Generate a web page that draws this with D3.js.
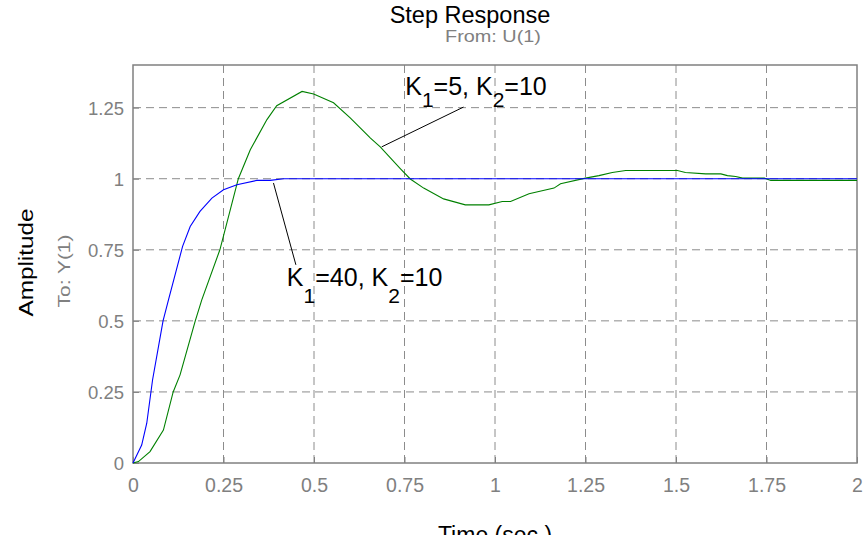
<!DOCTYPE html>
<html>
<head>
<meta charset="utf-8">
<script src="https://cdn.jsdelivr.net/npm/d3@7"></script>
<style>
  html, body { margin: 0; padding: 0; background: #fff; overflow: hidden; }
  svg { display: block; font-family: "Liberation Sans", Arial, sans-serif; }
</style>
</head>
<body>
<svg id="chart" width="866" height="535"></svg>
<script>
// ---- data ----
const xTicks = [0, 0.25, 0.5, 0.75, 1, 1.25, 1.5, 1.75, 2];
const yTicks = [0, 0.25, 0.5, 0.75, 1, 1.25];
const xTickLabels = ["0", "0.25", "0.5", "0.75", "1", "1.25", "1.5", "1.75", "2"];
const yTickLabels = ["0", "0.25", "0.5", "0.75", "1", "1.25"];

// K1=40, K2=10 (blue)
const blueT = [0, 0.024, 0.038, 0.054, 0.083, 0.098, 0.137, 0.158, 0.185, 0.218, 0.25, 0.287, 0.342, 0.379, 0.416, 2.0];
const blueV = [0, 0.063, 0.14, 0.292, 0.5, 0.574, 0.762, 0.832, 0.885, 0.932, 0.961, 0.979, 0.994, 0.994, 1.0, 1.0];

// K1=5, K2=10 (green)
const greenT = [0, 0.015, 0.047, 0.084, 0.111, 0.13, 0.172, 0.19, 0.24, 0.291, 0.324, 0.37, 0.397, 0.467, 0.499, 0.554, 0.6, 0.656, 0.683, 0.739, 0.766, 0.803, 0.858, 0.918, 0.983, 1.02, 1.043, 1.094, 1.163, 1.181, 1.25, 1.287, 1.324, 1.361, 1.504, 1.526, 1.582, 1.624, 1.642, 1.665, 1.684, 1.744, 1.762, 2.0];
const greenV = [0, 0.005, 0.04, 0.116, 0.25, 0.31, 0.5, 0.574, 0.75, 1.0, 1.102, 1.208, 1.257, 1.307, 1.298, 1.267, 1.214, 1.143, 1.112, 1.035, 0.999, 0.967, 0.929, 0.908, 0.908, 0.92, 0.92, 0.947, 0.967, 0.982, 1.002, 1.011, 1.022, 1.029, 1.029, 1.022, 1.017, 1.017, 1.011, 1.008, 1.002, 1.002, 0.994, 0.994];

// annotations (data coordinates)
const annoGreen = { text: ["K", "1", "=5, K", "2", "=10"], tx: 0.752, ty: 1.296, sub: 12, line: [[0.913, 1.252], [0.687, 1.112]] };
const annoBlue  = { text: ["K", "1", "=40, K", "2", "=10"], tx: 0.425, ty: 0.621, sub: 17, line: [[0.388, 0.985], [0.450, 0.697]] };

// ---- drawing ----
const svg = d3.select("#chart");
const L = 133, R = 857, T = 65, B = 463;
const x = d3.scaleLinear().domain([0, 2]).range([L, R]);
const y = d3.scaleLinear().domain([0, 1.4]).range([B, T]);
const gray = "#808080";

// grid
const grid = svg.append("g").attr("stroke", "#8c8c8c").attr("stroke-width", 1)
  .attr("stroke-dasharray", "8,5").attr("fill", "none");
xTicks.slice(1, -1).forEach(t => {
  grid.append("line").attr("x1", x(t)).attr("x2", x(t)).attr("y1", B).attr("y2", T);
});
yTicks.slice(1).forEach(t => {
  grid.append("line").attr("x1", L).attr("x2", R).attr("y1", y(t)).attr("y2", y(t));
});

// axes via d3 axis
const xAxis = d3.axisBottom(x).tickValues(xTicks).tickFormat((d, i) => xTickLabels[i]).tickSizeInner(-6).tickSizeOuter(0).tickPadding(15);
const yAxis = d3.axisLeft(y).tickValues(yTicks).tickFormat((d, i) => yTickLabels[i]).tickSizeInner(-6).tickSizeOuter(0).tickPadding(9);

const gx = svg.append("g").attr("transform", `translate(0,${B})`).call(xAxis);
const gy = svg.append("g").attr("transform", `translate(${L},0)`).call(yAxis);
[gx, gy].forEach(g => {
  g.select(".domain").remove();
  g.selectAll(".tick line").attr("stroke", gray).attr("stroke-width", 1);
  g.selectAll(".tick text").attr("fill", gray).style("font-family", '"Liberation Sans", Arial, sans-serif');
});
gx.selectAll(".tick text").style("font-size", "19.5px").attr("dy", "0.71em");
gy.selectAll(".tick text").style("font-size", "18.5px").attr("dy", "0.36em");

// box
svg.append("rect").attr("x", L).attr("y", T).attr("width", R - L).attr("height", B - T)
  .attr("fill", "none").attr("stroke", gray).attr("stroke-width", 1.5);

// lines
const line = d3.line().x(d => x(d[0])).y(d => y(d[1]));
svg.append("path").datum(greenT.map((t, i) => [t, greenV[i]]))
  .attr("d", line).attr("fill", "none").attr("stroke", "#008000").attr("stroke-width", 1.1);
svg.append("path").datum(blueT.map((t, i) => [t, blueV[i]]))
  .attr("d", line).attr("fill", "none").attr("stroke", "#0000ff").attr("stroke-width", 1.1);

// annotations
[annoGreen, annoBlue].forEach(a => {
  svg.append("line")
    .attr("x1", x(a.line[0][0])).attr("y1", y(a.line[0][1]))
    .attr("x2", x(a.line[1][0])).attr("y2", y(a.line[1][1]))
    .attr("stroke", "#000").attr("stroke-width", 1);
  const t = svg.append("text").attr("x", x(a.tx)).attr("y", y(a.ty))
    .attr("fill", "#000").style("font-size", "25px");
  a.text.forEach((s, i) => {
    const isSub = i % 2 === 1;
    t.append("tspan").text(s)
      .attr("dy", isSub ? a.sub : (i === 0 ? 0 : -a.sub))
      .style("font-size", isSub ? "21px" : "25px");
  });
});

// titles
svg.append("text").attr("x", 470).attr("y", 23).attr("text-anchor", "middle")
  .attr("fill", "#000").style("font-size", "23.5px").text("Step Response");
svg.append("text").attr("x", 493).attr("y", 42).attr("text-anchor", "middle")
  .attr("fill", gray).style("font-size", "17px")
  .attr("textLength", 96).attr("lengthAdjust", "spacingAndGlyphs").text("From: U(1)");

svg.append("text").attr("transform", "translate(33,262.5) rotate(-90)").attr("text-anchor", "middle")
  .attr("fill", "#000").style("font-size", "20px")
  .attr("textLength", 108).attr("lengthAdjust", "spacingAndGlyphs").text("Amplitude");
svg.append("text").attr("transform", "translate(70,271) rotate(-90)").attr("text-anchor", "middle")
  .attr("fill", gray).style("font-size", "17px")
  .attr("textLength", 73).attr("lengthAdjust", "spacingAndGlyphs").text("To: Y(1)");

svg.append("text").attr("x", 495).attr("y", 543).attr("text-anchor", "middle")
  .attr("fill", "#000").style("font-size", "23px").text("Time (sec.)");
</script>
</body>
</html>
